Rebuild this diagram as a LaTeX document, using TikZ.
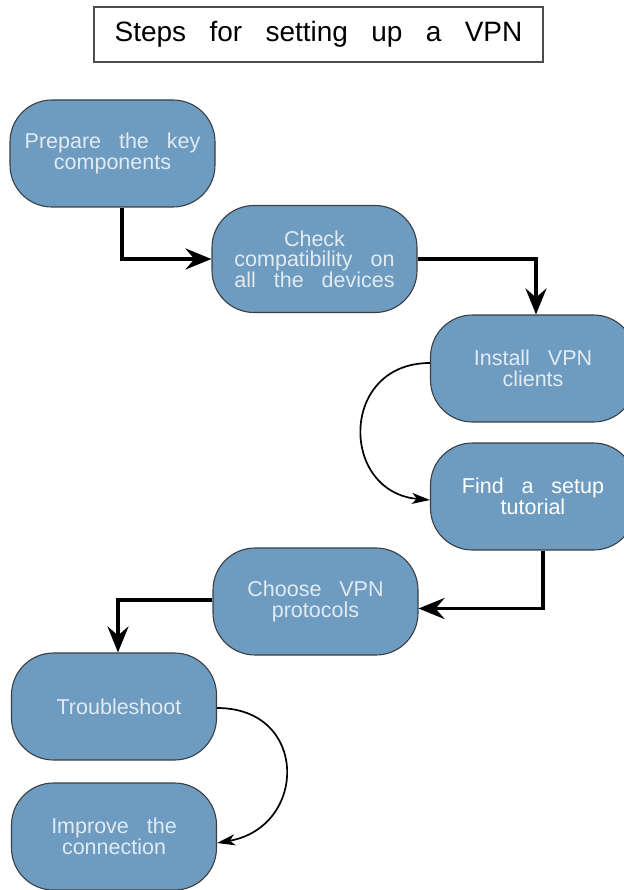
\documentclass[tikz,border=0pt]{standalone}
\usepackage{fontspec}
\setmainfont{Liberation Sans}
\newfontfamily\nodefont[WordSpace=2.2]{Liberation Sans}
\newfontfamily\titlefont[WordSpace=3.0]{Liberation Sans}
\usetikzlibrary{arrows.meta}
\definecolor{stepfill}{HTML}{6E9BC0}
\definecolor{stepline}{HTML}{3A3F44}
\definecolor{steptext}{HTML}{E2EAF2}
\begin{document}
\begin{tikzpicture}[x=1pt,y=-1pt,
  stepbox/.style={draw=stepline, line width=1.1pt, fill=stepfill, rounded corners=42pt,
    minimum width=205pt, minimum height=107pt, inner sep=0pt, align=center,
    text=steptext, font=\nodefont\fontsize{21.5}{20.5}\selectfont},
  bigarrow/.style={line width=3.8pt, -{Stealth[length=26pt,width=21pt,inset=9pt]}},
  smallarrow/.style={line width=1.7pt, -{Stealth[length=18pt,width=11pt,inset=5pt]}},
  titlebox/.style={draw=black!70, line width=1.4pt, minimum width=449pt, minimum height=55pt,
    inner sep=0pt, font=\titlefont\fontsize{28}{30}\selectfont}]
\useasboundingbox (0,0) rectangle (623,890);
\node[titlebox] (title) at (318.5,34.5) {Steps for setting up a VPN};
\node[stepbox] (n1) at (112.5,153.5) {Prepare the key\\components};
\node[stepbox] (n2) at (314.5,259) {Check\\compatibility on\\all the devices};
\node[stepbox] (n3) at (533,368.5) {Install VPN\\clients};
\node[stepbox, text=white] (n4) at (533,496.5) {Find a setup\\tutorial};
\node[stepbox] (n5) at (315.5,601.5) {Choose VPN\\protocols};
\node[stepbox] (n6) at (114,706.5) {\hspace*{10pt}Troubleshoot};
\node[stepbox] (n7) at (114,836.5) {Improve the\\connection};
\draw[bigarrow] ([xshift=9.5pt]n1.south) |- (n2.west);
\draw[bigarrow] (n2.east) -| ([xshift=3pt]n3.north);
\draw[smallarrow] ([yshift=5.5pt]n3.west) to[out=180,in=175,looseness=1.7] ([yshift=-3.5pt]n4.west);
\draw[bigarrow] ([xshift=10pt]n4.south) |- ([yshift=-7pt]n5.east);
\draw[bigarrow] ([yshift=1.5pt]n5.west) -| ([xshift=4pt]n6.north);
\draw[smallarrow] ([yshift=-1.5pt]n6.east) to[out=0,in=10,looseness=1.75] ([yshift=-6.5pt]n7.east);
\end{tikzpicture}
\end{document}
